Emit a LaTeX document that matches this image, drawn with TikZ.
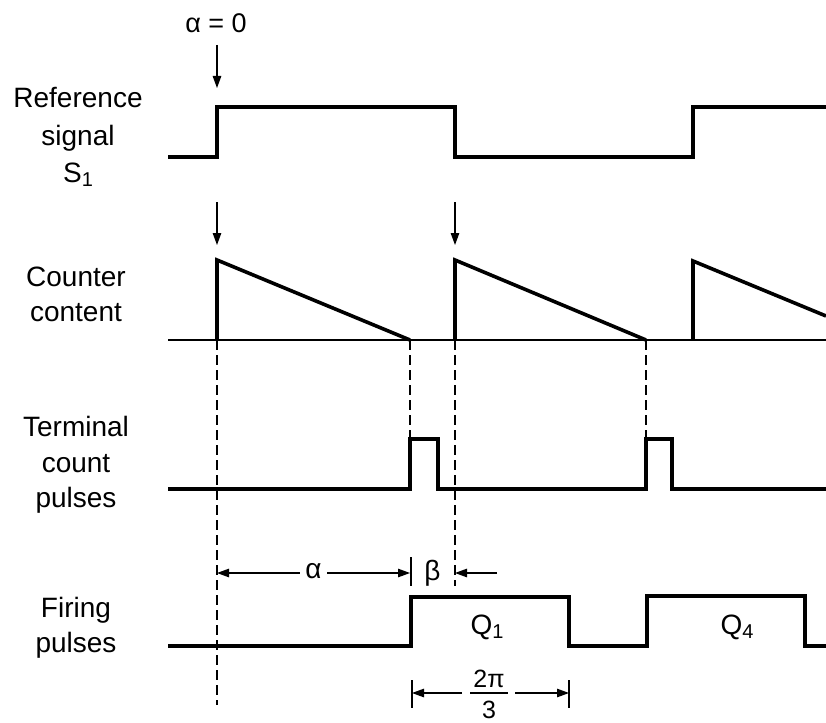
\documentclass[tikz,border=0pt]{standalone}
\usepackage{fontspec}
\setmainfont{Liberation Sans}
\usetikzlibrary{arrows.meta}
\newcommand\subtxt[1]{\raisebox{-4pt}{\fontsize{20}{20}\selectfont #1}}
\begin{document}
\begin{tikzpicture}[x=1pt,y=-1pt,
  sig/.style={line width=3.6pt, line join=miter},
  thinl/.style={line width=1.1pt},
  guide/.style={line width=1.1pt, dash pattern=on 10pt off 5pt},
  arr/.style={line width=1.1pt, -{Triangle[length=12pt,width=8.5pt]}},
  dimarr/.style={line width=1.1pt, {Triangle[length=12pt,width=8.5pt]}-{Triangle[length=12pt,width=8.5pt]}},
  lab/.style={font=\fontsize{28}{35.5}\selectfont, align=center, inner sep=0pt, anchor=north},
  txt/.style={font=\fontsize{28}{34}\selectfont, inner sep=0pt, anchor=base},
]
\useasboundingbox (0,0) rectangle (826,722);

% left labels
\node[lab, font=\fontsize{28}{37.5}\selectfont] (lref) at (78,87.5) {Reference\\signal\\S\subtxt{1}};
\node[lab] (lcnt) at (76,266.5) {Counter\\content};
\node[lab] (lterm) at (76,416.5) {Terminal\\count\\pulses};
\node[lab] (lfire) at (76,597) {Firing\\pulses};

% alpha = 0 marker
\node[txt, font=\fontsize{27}{30}\selectfont] (a0) at (216,33) {α = 0};
\coordinate (a0s) at (217,45);
\coordinate (a0e) at (217,88);
\draw[arr] (a0s) -- (a0e);

% reference signal
\draw[sig] (168,157) -- (217,157) -- (217,107) -- (455,107) -- (455,157) -- (693,157) -- (693,107) -- (826,107);

% arrows to counter
\coordinate (c1s) at (217,202);
\coordinate (c1e) at (217,245);
\coordinate (c2s) at (455,202);
\coordinate (c2e) at (455,245);
\draw[arr] (c1s) -- (c1e);
\draw[arr] (c2s) -- (c2e);

% counter content
\draw[thinl] (168,340) -- (826,340);
\draw[sig] (217,340) -- (217,260) -- (410,340);
\draw[sig] (455,340) -- (455,260) -- (646,340);
\draw[sig] (693,340) -- (693,261) -- (826,316);

% dashed guides
\draw[guide] (217,340) -- (217,705);
\draw[guide] (410,340) -- (410,439);
\draw[guide] (455,340) -- (455,586);
\draw[guide] (646,340) -- (646,439);

% terminal count pulses
\draw[sig] (168,489) -- (410,489) -- (410,439) -- (438,439) -- (438,489) -- (646,489) -- (646,439) -- (672,439) -- (672,489) -- (826,489);

% firing pulses
\draw[sig] (168,646) -- (411,646) -- (411,597) -- (569,597) -- (569,646) -- (647,646) -- (647,596) -- (805,596) -- (805,646) -- (826,646);
\node[txt] (q1) at (487,634) {Q\subtxt{1}};
\node[txt] (q4) at (737,634) {Q\subtxt{4}};

% alpha / beta dimensions
\coordinate (da1) at (217,573);
\coordinate (da2) at (410,573);
\draw[thinl] (411,557) -- (411,586);
\draw[dimarr] (da1) -- (da2);
\node[txt, fill=white, inner xsep=5pt, inner ysep=1pt] (lalpha) at (313.5,578) {α};
\node[txt] (lbeta) at (432.5,580) {β};
\coordinate (db1) at (497,573);
\coordinate (db2) at (455,573);
\draw[arr] (db1) -- (db2);

% 2pi/3 dimension
\coordinate (tl1) at (412,680);
\coordinate (tl2) at (412,708);
\coordinate (tr1) at (569,680);
\coordinate (tr2) at (569,708);
\draw[thinl] (tl1) -- (tl2);
\draw[thinl] (tr1) -- (tr2);
\node[txt, font=\fontsize{25}{28}\selectfont] (num) at (489,687) {2π};
\node[txt, font=\fontsize{25}{28}\selectfont] (den) at (489,718) {3};
\draw[line width=1.3pt] (470,693) -- (508,693);
\coordinate (fl) at (462,693);
\coordinate (fr) at (515,693);
\coordinate (el) at (412,693);
\coordinate (er) at (569,693);
\draw[arr] (fl) -- (el);
\draw[arr] (fr) -- (er);
\end{tikzpicture}
\end{document}
